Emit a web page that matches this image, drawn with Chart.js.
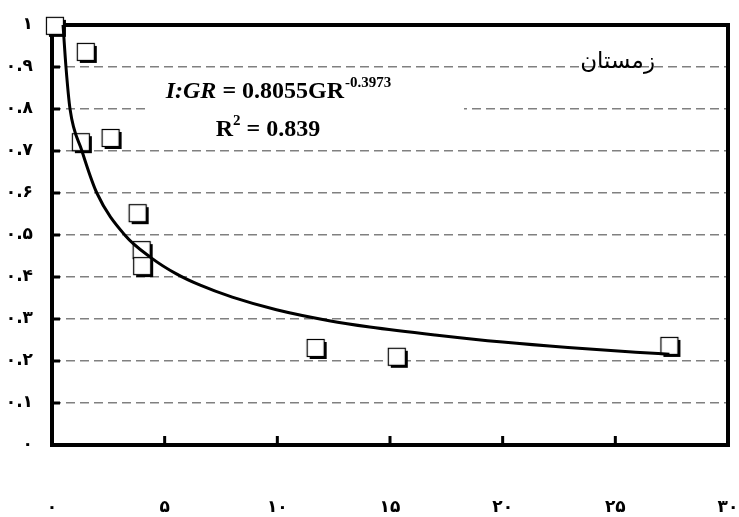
<!DOCTYPE html>
<html lang="fa">
<head>
    <meta charset="UTF-8">
    <title>زمستان</title>
    <script src="https://cdn.jsdelivr.net/npm/chart.js"></script>
    <style>
        html, body { margin: 0; padding: 0; background: #fff; }
        #wrap { width: 739px; height: 517px; }
    </style>
</head>
<body>
    <div id="wrap"><canvas id="chart"></canvas></div>

    <script>
        const xValues = [0.13, 1.5, 1.28, 2.6, 3.8, 3.98, 4.0, 11.7, 15.3, 27.4];
        const yValues = [0.998, 0.936, 0.721, 0.731, 0.552, 0.464, 0.426, 0.231, 0.210, 0.236];

        // power trendline, points
        const fitX = [0.49, 0.62, 0.80, 1.33, 1.99, 3.23, 4.42, 5.5, 6.55, 8.0, 9.96, 12.3, 14.1, 17.0, 20.0, 22.9, 25.9, 27.4];
        const fitY = [1.0, 0.9, 0.8, 0.7, 0.6, 0.5, 0.445, 0.408, 0.381, 0.352, 0.322, 0.296, 0.281, 0.262, 0.245, 0.232, 0.221, 0.216];

        // tick labels
        const xTicks = [0, 5, 10, 15, 20, 25, 30];
        const xTickLabels = ['۰', '۵', '۱۰', '۱۵', '۲۰', '۲۵', '۳۰'];
        const yTicks = [0, 0.1, 0.2, 0.3, 0.4, 0.5, 0.6, 0.7, 0.8, 0.9, 1];
        const yTickLabels = ['۰', '۰.۱', '۰.۲', '۰.۳', '۰.۴', '۰.۵', '۰.۶', '۰.۷', '۰.۸', '۰.۹', '۱'];

        const seasonTitle = 'زمستان';
        const eqText = { lhs: 'I:GR', mid: ' = 0.8055GR', exp: '-0.3973', r: 'R', r2: '2', rv: ' = 0.839' };

        // square marker with a small drop shadow
        function makeMarker() {
            const c = document.createElement('canvas');
            c.width = 26; c.height = 26;
            const g = c.getContext('2d');
            g.fillStyle = '#000';
            g.fillRect(7, 7, 17, 17);
            g.fillStyle = '#fff';
            g.fillRect(4.5, 4.5, 17, 17);
            g.strokeStyle = '#000';
            g.lineWidth = 1.2;
            g.strokeRect(4.5, 4.5, 17, 17);
            return c;
        }

        function labelFor(list, labels, v) {
            for (let i = 0; i < list.length; i++) {
                if (Math.abs(list[i] - v) < 1e-6) return labels[i];
            }
            return '';
        }

        // frame, inner tick marks, equation and title
        const decorPlugin = {
            id: 'decor',
            beforeDatasetsDraw(chart) {
                const ctx = chart.ctx;
                const a = chart.chartArea;
                const xs = chart.scales.x, ys = chart.scales.y;
                ctx.save();

                // equation box (white background hides grid)
                ctx.fillStyle = '#fff';
                const boxTop = ys.getPixelForValue(0.83), boxBot = ys.getPixelForValue(0.72);
                ctx.fillRect(148, boxTop, 316, boxBot - boxTop);

                ctx.fillStyle = '#000';
                ctx.textBaseline = 'alphabetic';
                const big = 24, small = 15;
                const f1 = 'italic bold ' + big + 'px "Liberation Serif"';
                const f2 = 'bold ' + big + 'px "Liberation Serif"';
                const f3 = 'bold ' + small + 'px "Liberation Serif"';
                ctx.font = f1; const w1 = ctx.measureText(eqText.lhs).width;
                ctx.font = f2; const w2 = ctx.measureText(eqText.mid).width;
                ctx.font = f3; const w3 = ctx.measureText(eqText.exp).width;
                let x0 = 278 - (w1 + w2 + w3) / 2;
                const base1 = 98;
                ctx.textAlign = 'left';
                ctx.font = f1; ctx.fillText(eqText.lhs, x0, base1);
                ctx.font = f2; ctx.fillText(eqText.mid, x0 + w1, base1);
                ctx.font = f3; ctx.fillText(eqText.exp, x0 + w1 + w2 + 1, base1 - 11);

                ctx.font = f2; const r1 = ctx.measureText(eqText.r).width;
                ctx.font = f3; const r2 = ctx.measureText(eqText.r2).width;
                ctx.font = f2; const r3 = ctx.measureText(eqText.rv).width;
                x0 = 268 - (r1 + r2 + r3) / 2;
                const base2 = 136;
                ctx.font = f2; ctx.fillText(eqText.r, x0, base2);
                ctx.font = f3; ctx.fillText(eqText.r2, x0 + r1, base2 - 11);
                ctx.font = f2; ctx.fillText(eqText.rv, x0 + r1 + r2, base2);

                // season title
                ctx.font = '23px "DejaVu Sans"';
                ctx.textAlign = 'right';
                ctx.fillText(seasonTitle, 655, 68);

                // inner ticks
                ctx.strokeStyle = '#000';
                ctx.lineWidth = 3;
                ctx.beginPath();
                yTicks.forEach(v => {
                    const py = ys.getPixelForValue(v);
                    ctx.moveTo(a.left, py); ctx.lineTo(a.left + 8, py);
                });
                xTicks.forEach(v => {
                    const px = xs.getPixelForValue(v);
                    ctx.moveTo(px, a.bottom); ctx.lineTo(px, a.bottom - 9);
                });
                ctx.stroke();

                // frame
                ctx.lineWidth = 4;
                ctx.strokeRect(a.left, a.top, a.right - a.left, a.bottom - a.top);
                ctx.restore();
            }
        };

        const ctx = document.getElementById('chart').getContext('2d');
        new Chart(ctx, {
            type: 'scatter',
            data: {
                datasets: [
                    {
                        label: 'fit',
                        data: fitX.map((x, i) => ({ x: x, y: fitY[i] })),
                        showLine: true,
                        borderColor: '#000',
                        borderWidth: 3,
                        pointRadius: 0,
                        cubicInterpolationMode: 'monotone',
                        clip: false
                    },
                    {
                        label: 'data',
                        data: xValues.map((x, i) => ({ x: x, y: yValues[i] })),
                        pointStyle: makeMarker(),
                        pointRadius: 10,
                        clip: false
                    }
                ]
            },
            options: {
                responsive: true,
                maintainAspectRatio: false,
                animation: false,
                layout: { padding: { top: 25, right: 10, left: 0, bottom: 0 } },
                plugins: {
                    legend: { display: false },
                    tooltip: { enabled: false }
                },
                scales: {
                    x: {
                        type: 'linear',
                        min: 0,
                        max: 30,
                        afterFit: s => { s.height = 72; s.paddingLeft = 0; s.paddingRight = 0; },
                        ticks: {
                            stepSize: 5,
                            padding: 52,
                            color: '#000',
                            maxRotation: 0,
                            font: { family: 'DejaVu Sans', size: 17, weight: 'bold' },
                            callback: v => labelFor(xTicks, xTickLabels, v)
                        },
                        grid: { display: false, drawTicks: false },
                        border: { display: false }
                    },
                    y: {
                        min: 0,
                        max: 1,
                        afterFit: s => { s.width = 52; s.paddingTop = 0; s.paddingBottom = 0; },
                        ticks: {
                            stepSize: 0.1,
                            padding: 19,
                            color: '#000',
                            font: { family: 'DejaVu Sans', size: 17, weight: 'bold' },
                            callback: v => labelFor(yTicks, yTickLabels, v)
                        },
                        grid: { color: '#808080', lineWidth: 1.5, drawTicks: false },
                        border: { display: false, dash: [9, 5] }
                    }
                }
            },
            plugins: [decorPlugin]
        });
    </script>
</body>
</html>
